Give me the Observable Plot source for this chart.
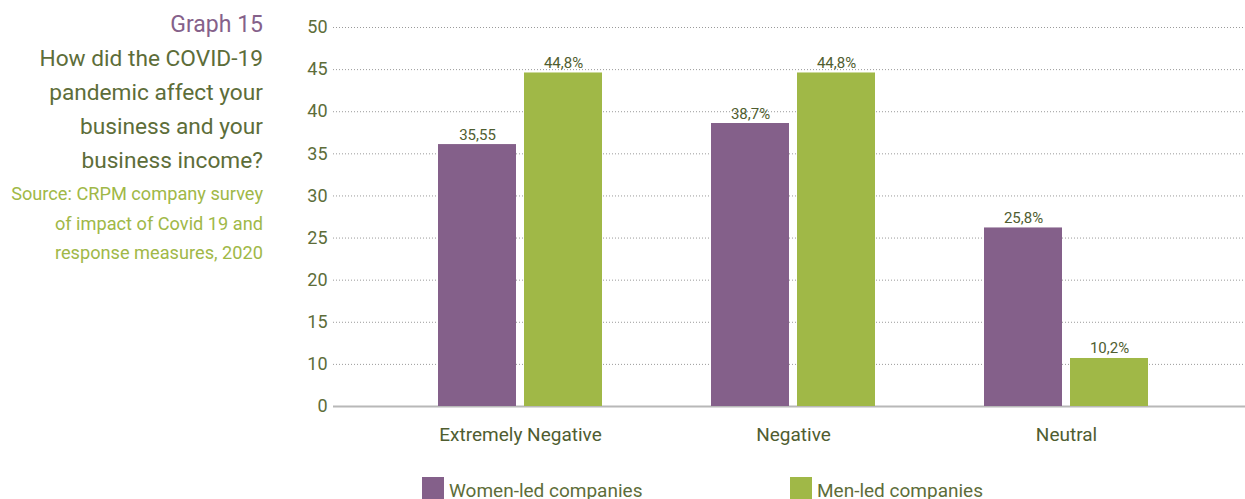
<!DOCTYPE html>
<html>
<head>
<meta charset="utf-8">
<script src="https://cdn.jsdelivr.net/npm/d3@7"></script>
<script src="https://cdn.jsdelivr.net/npm/@observablehq/plot@0.6"></script>
<style>
  html, body { margin: 0; padding: 0; background: #fff; }
  #wrap { position: relative; width: 1245px; height: 499px; overflow: hidden; font-family: Roboto, sans-serif; }
  #title { position: absolute; left: 0; top: 8px; width: 263px; text-align: right; }
  #title .g { color: #85618a; font-size: 23px; line-height: 34px; }
  #title .t { color: #5d6d39; font-size: 22.7px; line-height: 34px; }
  #title .s { color: #a0b847; font-size: 18.2px; line-height: 29.5px; margin-top: 1px; }
  #legend { position: relative; height: 23px; font-size: 19px; color: #5d6d39; }
  #legend .item { position: absolute; top: 1px; display: flex; align-items: flex-start; }
  #legend .sw { width: 22px; height: 22px; margin-right: 5px; }
  #legend .lab { line-height: 22px; margin-top: 3px; }
</style>
</head>
<body>
<div id="wrap">
  <div id="chart"></div>
  <div id="legend"></div>
  <div id="title">
    <div class="g">Graph 15</div>
    <div class="t">How did the COVID-19<br>pandemic affect your<br>business and your<br>business income?</div>
    <div class="s">Source: CRPM company survey<br>of impact of Covid 19 and<br>response measures, 2020</div>
  </div>
</div>
<script>
const categories = ["Extremely Negative", "Negative", "Neutral"];
const seriesNames = ["Women-led companies", "Men-led companies"];
// bar heights as drawn in the picture
const womenValues = [36.1, 38.6, 26.2];
const menValues = [44.6, 44.6, 10.7];
// value labels as printed
const womenLabels = ["35,55", "38,7%", "25,8%"];
const menLabels = ["44,8%", "44,8%", "10,2%"];
const yTickValues = [5, 10, 15, 20, 25, 30, 35, 40, 45, 50];
const yTickLabels = ["0", "10", "15", "20", "25", "30", "35", "40", "45", "50"];
const gridValues = [10, 15, 20, 25, 30, 35, 40, 45, 50];
const colors = ["#84608a", "#a0b847"];

const women = categories.map((c, i) => ({cat: c, value: womenValues[i], label: womenLabels[i]}));
const men = categories.map((c, i) => ({cat: c, value: menValues[i], label: menLabels[i]}));

const textColor = "#5d6d39";
const bw = 164, barW = 78, inset = bw - barW, half = (barW + (bw - 2 * barW)) / 2;

const chart = Plot.plot({
  width: 1245,
  height: 476,
  marginLeft: 333,
  marginRight: 0,
  marginTop: 27,
  marginBottom: 70,
  style: {fontFamily: "Roboto, sans-serif", color: textColor, background: "transparent"},
  x: {domain: categories, range: [438, 1149], paddingInner: 0.4, paddingOuter: 0, align: 0},
  y: {domain: [5, 50], clamp: true},
  marks: [
    Plot.gridY(gridValues, {stroke: "#9a9a9a", strokeOpacity: 1, strokeDasharray: "1,2"}),
    Plot.ruleY([5], {stroke: "#b8b8b8", strokeWidth: 2}),
    Plot.barY(women, {x: "cat", y: "value", fill: colors[0], insetRight: inset}),
    Plot.barY(men, {x: "cat", y: "value", fill: colors[1], insetLeft: inset}),
    Plot.text(women, {x: "cat", y: "value", text: "label", dx: -half, dy: -5, lineAnchor: "bottom", fontSize: 15, fill: "#4f5d30"}),
    Plot.text(men, {x: "cat", y: "value", text: "label", dx: half, dy: -5, lineAnchor: "bottom", fontSize: 15, fill: "#4f5d30"}),
    Plot.axisY({ticks: yTickValues, tickFormat: (d) => yTickLabels[yTickValues.indexOf(d)], tickSize: 0, tickPadding: 6, fontSize: 18, label: null, color: textColor}),
    Plot.axisX({tickSize: 0, tickPadding: 21, fontSize: 19, label: null, color: "#4f5d30"})
  ]
});
document.getElementById("chart").appendChild(chart);

const legend = document.getElementById("legend");
const legendX = [422, 790];
seriesNames.forEach((name, i) => {
  const item = document.createElement("div");
  item.className = "item";
  item.style.left = legendX[i] + "px";
  const sw = document.createElement("div");
  sw.className = "sw";
  sw.style.background = colors[i];
  const lab = document.createElement("div");
  lab.className = "lab";
  lab.textContent = name;
  item.appendChild(sw);
  item.appendChild(lab);
  legend.appendChild(item);
});
</script>
</body>
</html>
